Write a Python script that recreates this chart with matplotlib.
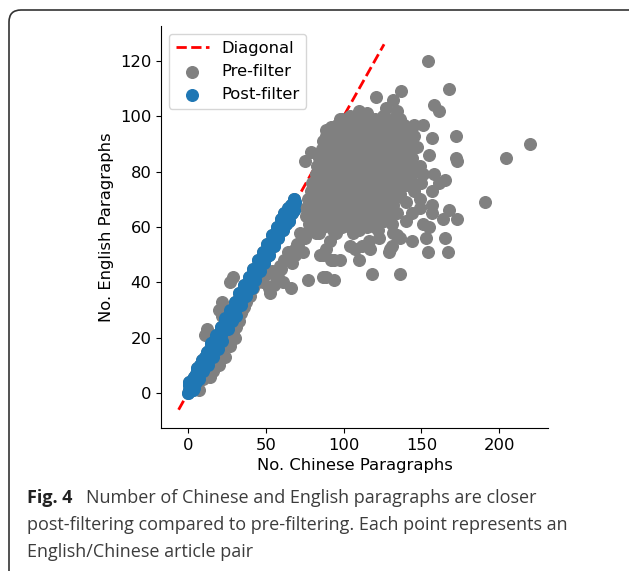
import matplotlib
matplotlib.use("Agg")
import matplotlib.pyplot as plt
from matplotlib import font_manager
from matplotlib.patches import FancyBboxPatch
from matplotlib.transforms import IdentityTransform

plt.rcParams["font.family"] = "DejaVu Sans"

# kept pairs after filtering (Chinese paragraphs, English paragraphs)
post_pairs = [
    (0, 0), (1, 1), (1, 3), (2, 2), (2, 1), (3, 3), (3, 5), (4, 4), (4, 6), (5, 5),
    (5, 4), (5, 7), (6, 6), (6, 8), (7, 7), (7, 9), (8, 8), (8, 10), (9, 8), (9, 10),
    (10, 10), (10, 12), (11, 11), (11, 13), (12, 12), (12, 14), (13, 12), (13, 14),
    (14, 14), (14, 16), (15, 15), (15, 17), (16, 15), (16, 17), (17, 17), (17, 19),
    (18, 18), (18, 20), (19, 19), (20, 19), (20, 21), (21, 21), (21, 23), (22, 22),
    (23, 24), (24, 24), (24, 26), (25, 24), (25, 25), (26, 27), (27, 27), (27, 29),
    (28, 29), (29, 29), (30, 29), (30, 31), (31, 31), (31, 33), (32, 33), (33, 34),
    (34, 34), (35, 34), (35, 36), (36, 36), (36, 38), (37, 38), (38, 38), (39, 38),
    (39, 40), (40, 41), (41, 41), (42, 43), (43, 44), (44, 43), (44, 44), (45, 46),
    (46, 47), (47, 48), (48, 49), (49, 50), (50, 49), (50, 51), (51, 51), (52, 53),
    (53, 54), (54, 55), (55, 54), (55, 56), (56, 56), (57, 58), (58, 59), (59, 60),
    (60, 59), (60, 61), (61, 62), (62, 63), (63, 64), (64, 65), (65, 64), (65, 66),
    (66, 66), (67, 68), (68, 68), (68, 70), (69, 69),
    (1, 4), (3, 1), (4, 2), (6, 9), (7, 5), (9, 12), (10, 8), (12, 15), (13, 10),
    (15, 18), (16, 13), (18, 21), (19, 16), (21, 24), (22, 19), (24, 27), (26, 23),
    (27, 30), (28, 26), (30, 33), (31, 28), (33, 36), (34, 32), (36, 39), (37, 35),
    (39, 42), (41, 38), (42, 45), (43, 41), (45, 48), (46, 44), (48, 51), (49, 47),
    (51, 54), (52, 50), (54, 57), (55, 53), (57, 60), (58, 56), (60, 63), (61, 59),
    (62, 65), (63, 61), (64, 67), (65, 62), (66, 68), (67, 65), (68, 66),
]

# pairs dropped by the filter: near the diagonal, low counts
removed_low = [
    (7, 1), (10, 5), (14, 6), (16, 8), (20, 10), (24, 13), (22, 17), (27, 17),
    (28, 20), (30, 20), (29, 22), (31, 24), (33, 26), (34, 29), (35, 30), (36, 31),
    (37, 33), (39, 37), (40, 35), (42, 38), (45, 40), (48, 40), (44, 42), (47, 44),
    (11, 21), (12, 23), (20, 30), (22, 28), (22, 33), (27, 40), (29, 42),
    (50, 43), (52, 38), (53, 36), (54, 44), (55, 39), (55, 43), (58, 42), (59, 46),
    (60, 45), (61, 40), (62, 48), (64, 51), (65, 48), (66, 38), (67, 47), (67, 49),
    (69, 52), (70, 54), (69, 50), (71, 54), (72, 58), (74, 51), (74, 57), (75, 56),
    (77, 41), (87, 42), (89, 42), (94, 41), (85, 50), (87, 50), (89, 52), (92, 48),
    (94, 48), (98, 48), (104, 53), (107, 52), (110, 48), (112, 53), (116, 55),
    (117, 52), (118, 43), (91, 55), (95, 58), (84, 58), (78, 59), (82, 58),
    (106, 58), (108, 61), (122, 59), (123, 56), (129, 51), (131, 53), (134, 57),
    (131, 61), (136, 43),
]

# pairs dropped by the filter: the dense cloud
removed_core = [
    (75, 84), (79, 87), (89, 95), (99, 99), (104, 100), (110, 102), (115, 101),
    (121, 107), (127, 103), (132, 106), (134, 102), (137, 109),
    (96, 97), (101, 98), (107, 97), (112, 98), (118, 97), (123, 98), (128, 97), (134, 98), (139, 97),
    (90, 94), (94, 95), (100, 94), (105, 95), (110, 94), (116, 95), (121, 94), (126, 95), (131, 94), (137, 95), (141, 93),
    (87, 91), (91, 91), (97, 92), (102, 91), (108, 91), (113, 92), (118, 91), (124, 91), (129, 92), (134, 91), (140, 91),
    (86, 88), (90, 88), (95, 89), (101, 88), (106, 88), (111, 89), (117, 88), (122, 88), (128, 89), (133, 88), (138, 88), (142, 87),
    (84, 85), (89, 85), (94, 85), (99, 86), (105, 85), (110, 85), (115, 86), (121, 85), (126, 85), (131, 86), (136, 85), (141, 85),
    (83, 82), (88, 82), (93, 83), (98, 82), (104, 82), (109, 82), (114, 83), (119, 82), (125, 82), (130, 83), (135, 82), (140, 82), (144, 83),
    (82, 79), (87, 79), (92, 79), (97, 80), (103, 79), (108, 79), (113, 80), (118, 79), (123, 79), (129, 80), (134, 79), (139, 79), (145, 80),
    (80, 76), (85, 76), (91, 77), (96, 76), (101, 76), (106, 77), (112, 76), (117, 76), (122, 77), (127, 76), (132, 76), (137, 77),
    (79, 73), (84, 73), (89, 74), (95, 73), (100, 73), (105, 74), (110, 73), (116, 73), (121, 74), (126, 73), (131, 73), (136, 74),
    (77, 70), (82, 70), (88, 71), (93, 70), (98, 70), (104, 71), (109, 70), (114, 70), (119, 71), (124, 70), (130, 70), (134, 71),
    (76, 67), (81, 67), (86, 68), (92, 67), (97, 67), (102, 68), (107, 67), (113, 67), (118, 68), (123, 67), (128, 67),
    (76, 64), (81, 64), (87, 65), (92, 64), (97, 64), (103, 65), (108, 64), (113, 64), (118, 65), (124, 64), (129, 64),
    (78, 61), (84, 61), (90, 62), (96, 61), (101, 61), (107, 62), (112, 61), (117, 61), (123, 62),
    (98, 99), (109, 99), (114, 99), (120, 99), (125, 100), (131, 99), (136, 99),
    (92, 96), (97, 96), (103, 96), (108, 96), (113, 97), (119, 96), (124, 96), (129, 96), (135, 96), (140, 95),
    (89, 93), (93, 93), (99, 93), (104, 93), (110, 92), (115, 93), (121, 93), (126, 92), (132, 93), (137, 93),
    (88, 90), (93, 90), (99, 90), (104, 89), (110, 90), (115, 90), (121, 89), (126, 90), (131, 90), (137, 89), (142, 90),
    (86, 87), (88, 86), (92, 86), (97, 87), (103, 87), (108, 86), (114, 87), (119, 87), (124, 86), (130, 87), (135, 87), (140, 88),
    (86, 84), (91, 84), (96, 83), (101, 84), (107, 84), (112, 84), (117, 83), (123, 84), (128, 84), (133, 84), (138, 83), (143, 85),
    (85, 81), (90, 81), (95, 80), (100, 81), (106, 81), (111, 80), (116, 81), (122, 81), (127, 80), (132, 81), (137, 81), (142, 80),
    (84, 78), (89, 78), (94, 77), (99, 78), (105, 78), (110, 77), (115, 78), (120, 78), (126, 77), (131, 78), (136, 78), (141, 78),
    (82, 75), (88, 75), (93, 74), (98, 75), (103, 75), (108, 74), (114, 75), (119, 75), (124, 74), (130, 75), (135, 75), (140, 75),
    (81, 72), (86, 72), (91, 71), (97, 72), (102, 72), (107, 71), (112, 72), (118, 72), (123, 71), (128, 72), (133, 72),
    (79, 69), (85, 69), (90, 68), (95, 69), (100, 69), (106, 68), (111, 69), (116, 69), (121, 68), (127, 69), (132, 68),
    (78, 66), (84, 66), (89, 65), (94, 66), (100, 66), (105, 65), (110, 66), (116, 66), (121, 65), (126, 66), (131, 65),
    (79, 63), (85, 63), (90, 62), (95, 63), (100, 63), (105, 62), (110, 63), (115, 63), (120, 62), (126, 62),
    (81, 60), (87, 60), (93, 59), (99, 60), (104, 60), (110, 59), (115, 60), (120, 60),
]

# pairs dropped by the filter: scattered to the right
removed_spread = [
    (154, 120), (168, 110), (158, 104), (161, 102), (145, 97), (151, 97), (147, 89),
    (145, 93), (139, 94), (138, 88), (140, 84), (157, 92), (172, 93), (155, 86),
    (172, 85), (173, 84), (204, 85), (220, 90), (191, 69), (144, 85), (149, 82),
    (158, 79), (165, 77), (161, 76), (157, 73), (150, 76), (145, 73), (149, 67),
    (157, 68), (168, 66), (173, 63), (164, 63), (157, 65), (151, 61), (155, 60),
    (153, 56), (144, 55), (154, 51), (165, 56), (167, 51), (136, 56), (130, 52),
    (132, 58), (140, 62), (134, 65), (144, 65), (149, 70), (140, 69), (136, 72),
    (151, 79), (145, 75), (143, 77), (142, 86),
]

diag_range = [-6, 126]

pre_pairs = post_pairs + removed_low + removed_core + removed_spread
pre_cn = [p[0] for p in pre_pairs]
pre_en = [p[1] for p in pre_pairs]
post_cn = [p[0] for p in post_pairs]
post_en = [p[1] for p in post_pairs]

caption_bold = "Fig. 4"
caption_lines = [
    "Number of Chinese and English paragraphs are closer",
    "post-filtering compared to pre-filtering. Each point represents an",
    "English/Chinese article pair",
]


def pick_font(names):
    for n in names:
        try:
            font_manager.findfont(n, fallback_to_default=False)
            return n
        except Exception:
            pass
    return "DejaVu Sans"


W, H = 629, 571
fig = plt.figure(figsize=(W / 100, H / 100), dpi=100)

ax = fig.add_axes([161 / W, 1 - 428 / H, (548 - 161) / W, (428 - 26) / H])
ax.plot(diag_range, diag_range, "r--", lw=2, label="Diagonal")
ax.scatter(pre_cn, pre_en, s=70, color="grey", label="Pre-filter", zorder=2)
ax.scatter(post_cn, post_en, s=70, color="#1f77b4", label="Post-filter", zorder=3)
ax.spines["top"].set_visible(False)
ax.spines["right"].set_visible(False)
ax.tick_params(labelsize=11.8)
ax.set_xlabel("No. Chinese Paragraphs", fontsize=11.8)
ax.set_ylabel("No. English Paragraphs", fontsize=11.8)
ax.legend(loc="upper left", fontsize=11.8)

# caption below the plot, as in the paper
cap_font = pick_font(["Liberation Sans Narrow", "Open Sans", "Noto Sans"])
renderer = fig.canvas.get_renderer()
probe = fig.text(0, 0, caption_lines[1], family=cap_font, fontsize=10)
w10 = probe.get_window_extent(renderer).width
probe.remove()
cap_size = 10 * (570 - 27) / w10

fig.text(27 / W, 1 - 503 / H, caption_bold, family=cap_font, fontsize=cap_size,
         weight="bold", color="#222222", va="baseline")
fig.text(86 / W, 1 - 503 / H, caption_lines[0], family=cap_font, fontsize=cap_size,
         color="#3c3c3c", va="baseline")
fig.text(27 / W, 1 - 530 / H, caption_lines[1], family=cap_font, fontsize=cap_size,
         color="#3c3c3c", va="baseline")
fig.text(27 / W, 1 - 557 / H, caption_lines[2], family=cap_font, fontsize=cap_size,
         color="#3c3c3c", va="baseline")

# rounded frame around the figure
frame = FancyBboxPatch((9, -30), 660, H - 10 + 30, boxstyle="round,pad=0,rounding_size=12",
                       transform=IdentityTransform(), fill=False, edgecolor="#333333", lw=1.2)
fig.add_artist(frame)

fig.savefig("out.png", dpi=100)
